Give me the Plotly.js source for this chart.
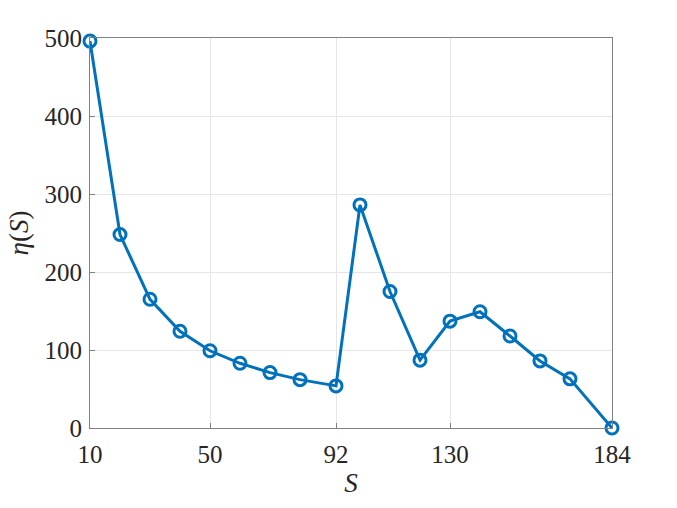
<!DOCTYPE html>
<html>
<head>
<meta charset="utf-8">
<script src="https://cdn.plot.ly/plotly-3.0.1.min.js"></script>
<style>
  html, body { margin: 0; padding: 0; background: white; }
  #graph { width: 677px; height: 508px; }
</style>
</head>
<body>
<div id="graph"></div>
<script>
// dados
const sVals = [10, 20, 30, 40, 50, 60, 70, 80, 92, 100, 110, 120, 130, 140, 150, 160, 170, 184]
const etaVals = [496, 248, 165, 124, 99, 83, 71, 62, 54, 286, 175, 87, 137, 149, 118, 86, 63, 0]
const xTicks = [10, 50, 92, 130, 184]
const yTicks = [0, 100, 200, 300, 400, 500]

const azul = '#0072BD'
const fonte = "'Liberation Serif', 'DejaVu Serif', serif"

const trace = {
    x: sVals,
    y: etaVals,
    type: 'scatter',
    mode: 'lines+markers',
    line: { color: azul, width: 3 },
    marker: { symbol: 'circle-open', size: 12, color: azul, line: { width: 3, color: azul } },
    cliponaxis: false,
    showlegend: false
}

const eixo = {
    showline: true,
    linecolor: '#808080',
    linewidth: 1,
    mirror: true,
    showgrid: true,
    gridcolor: '#e6e6e6',
    zeroline: false,
    ticks: 'inside',
    ticklen: 5,
    tickcolor: '#808080',
    tickfont: { family: fonte, size: 25, color: '#262626' }
}

const layout = {
    width: 677,
    height: 508,
    margin: { l: 90, r: 65, t: 38, b: 80 },
    paper_bgcolor: 'white',
    plot_bgcolor: 'white',
    xaxis: Object.assign({}, eixo, {
        range: [10, 184],
        tickvals: xTicks,
        ticklabelstandoff: 4,
        title: { text: '<i>S</i>', font: { family: fonte, size: 27, color: '#262626' }, standoff: 4 }
    }),
    yaxis: Object.assign({}, eixo, {
        range: [0, 500],
        tickvals: yTicks,
        ticklabelstandoff: 2,
        title: { text: '<i>η</i>(<i>S</i>)', font: { family: fonte, size: 27, color: '#262626' }, standoff: 8 }
    })
}

Plotly.newPlot('graph', [trace], layout, { staticPlot: true })
</script>
</body>
</html>
